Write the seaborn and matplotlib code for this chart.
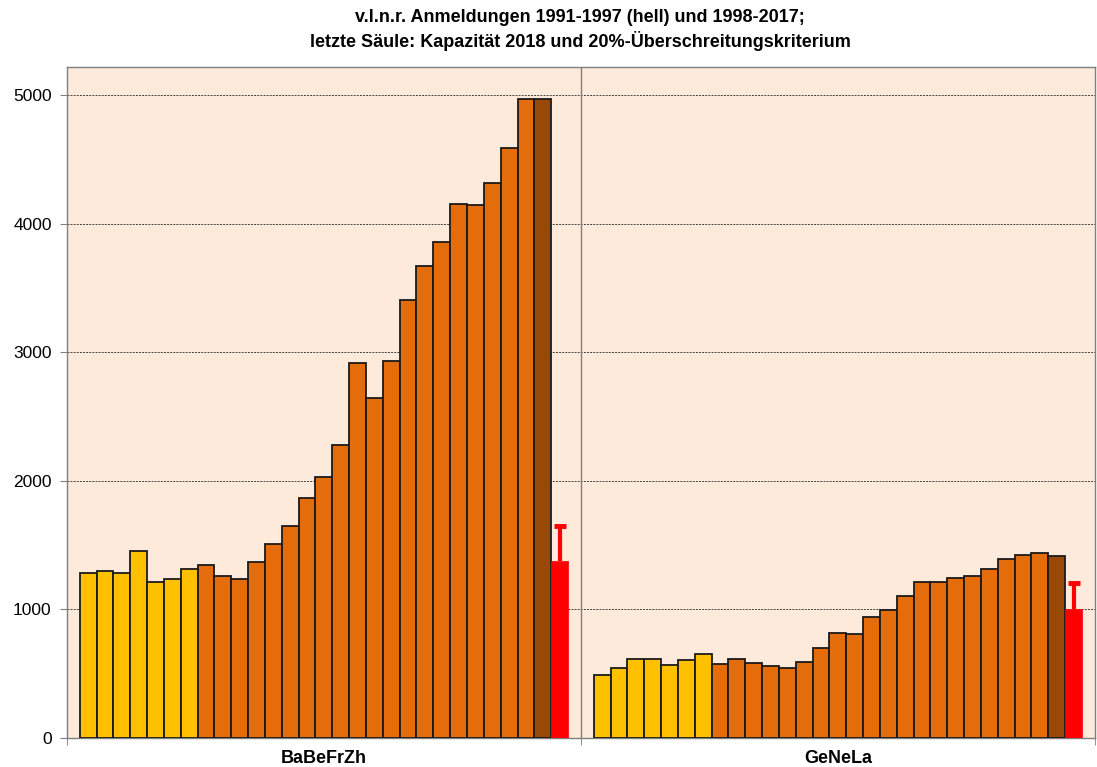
import pandas as pd
import seaborn as sns
import matplotlib.pyplot as plt
import matplotlib.ticker as mticker

# --- data ---
groups = ["BaBeFrZh", "GeNeLa"]
# Anmeldungen 1991-1997 (hell)
early_babefrzh = [1280, 1296, 1286, 1452, 1216, 1234, 1310]
early_genela = [490, 544, 611, 611, 570, 604, 655]
# Anmeldungen 1998-2017
late_babefrzh = [1348, 1261, 1234, 1366, 1505, 1644, 1862, 2026, 2276, 2919,
                 2644, 2929, 3409, 3669, 3857, 4156, 4145, 4319, 4590, 4969]
late_genela = [578, 611, 583, 562, 544, 591, 699, 816, 808, 943,
               995, 1106, 1215, 1212, 1241, 1259, 1311, 1394, 1422, 1435]
# dark column before capacity
dark_values = [4972, 1412]
# capacity 2018 and 20% criterion (top of whisker)
capacity = [1372, 1000]
criterion = [1650, 1205]

n_early = len(early_babefrzh)
n_late = len(late_babefrzh)

rows = []
for g, early, late, dark, cap in zip(groups,
                                     [early_babefrzh, early_genela],
                                     [late_babefrzh, late_genela],
                                     dark_values, capacity):
    vals = list(early) + list(late) + [dark, cap]
    for i, v in enumerate(vals):
        rows.append({"group": g, "slot": i, "value": v})
df = pd.DataFrame(rows)

palette = (["#FFC000"] * n_early + ["#E46C0A"] * n_late +
           ["#984807", "#FF0000"])

plt.rcParams['font.family'] = ['Liberation Sans', 'DejaVu Sans']

fig = plt.figure(figsize=(10.97, 7.67), dpi=100)
ax = fig.add_axes([0.061, 0.038, 0.937, 0.875])
ax.set_facecolor("#FDEADA")

sns.barplot(data=df, x="group", y="value", hue="slot", palette=palette,
            order=groups, width=0.95, dodge=True, legend=False,
            edgecolor="#1A1A1A", linewidth=1.3, saturation=1, ax=ax, zorder=3)

# red capacity bars: no dark outline, plus 20% whisker (upper cap only)
red_bars = ax.containers[-1]
for bar, cap, crit in zip(red_bars, capacity, criterion):
    bar.set_edgecolor("#FF0000")
    bar.set_linewidth(0.5)
    xc = bar.get_x() + bar.get_width() / 2
    eb = ax.errorbar(xc, cap, yerr=[[0], [crit - cap]], fmt="none",
                     ecolor="#FF0000", elinewidth=3, capsize=4, capthick=3.5,
                     zorder=4)
    eb[1][0].set_visible(False)

ax.set_ylim(0, 5220)
ax.set_xlim(-0.5, 1.5)
ax.yaxis.set_major_locator(mticker.MultipleLocator(1000))
ax.grid(axis="y", color="#404040", linestyle=(0, (2, 1.2)), linewidth=0.7,
        zorder=0)
ax.set_axisbelow(True)
ax.axvline(0.5, color="#7F7F7F", linewidth=1.0, zorder=2)

for side in ["left", "bottom", "top", "right"]:
    ax.spines[side].set_color("#7F7F7F")
    ax.spines[side].set_linewidth(1.0)

ax.set_xticks([0, 1])
ax.set_xticklabels(groups, fontsize=13, fontweight="bold")
ax.set_xticks([-0.5, 0.5, 1.5], minor=True)
ax.tick_params(axis="x", which="major", length=0, pad=9)
ax.tick_params(axis="x", which="minor", length=5, color="#7F7F7F")
ax.tick_params(axis="y", length=5, color="#7F7F7F", labelsize=12.5, pad=6)
ax.set_xlabel("")
ax.set_ylabel("")

fig.text(0.529, 0.988,
         "v.l.n.r. Anmeldungen 1991-1997 (hell) und 1998-2017;\n"
         "letzte Säule: Kapazität 2018 und 20%-Überschreitungskriterium",
         ha="center", va="top", fontsize=13, fontweight="bold",
         linespacing=1.3)

fig.savefig("out.png", dpi=100)
